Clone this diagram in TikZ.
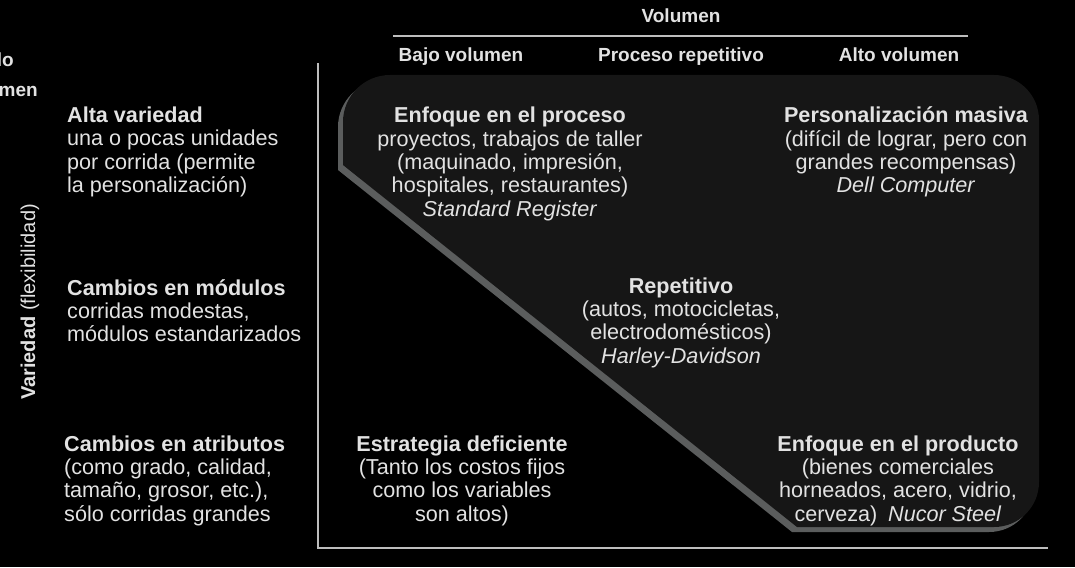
\documentclass[tikz,border=0pt]{standalone}
\usepackage{fontspec}
\setmainfont{Liberation Sans}
\definecolor{txt}{HTML}{E2E2E2}
\definecolor{panel}{HTML}{161616}
\definecolor{shadowgray}{HTML}{5B5D5D}
\definecolor{axis}{HTML}{BDBDBD}
\begin{document}
\begin{tikzpicture}[x=1pt,y=-1pt,
  lbl/.style={text=txt,font=\fontsize{21.6}{23.3}\selectfont,inner sep=0pt},
  cell/.style={lbl,align=center},
  side/.style={lbl,align=left,anchor=west},
  head/.style={lbl,font=\fontsize{19}{22}\selectfont\bfseries,anchor=base},
  axisline/.style={draw=axis,line width=1.5pt}]
\fill[black] (0,0) rectangle (1075,567);
\useasboundingbox (0,0) rectangle (1075,567);
% panel shadow
\begin{scope}[shift={(-5,5)}]
\fill[shadowgray] (343,122) .. controls (343,96.1) and (364.1,75) .. (390,75)
  -- (994,75) .. controls (1018.9,75) and (1039,95.1) .. (1039,120)
  -- (1039,482) .. controls (1039,506.9) and (1018.9,527) .. (994,527)
  -- (797,527) -- (343,165) -- cycle;
\end{scope}
\fill[panel] (343,122) .. controls (343,96.1) and (364.1,75) .. (390,75)
  -- (994,75) .. controls (1018.9,75) and (1039,95.1) .. (1039,120)
  -- (1039,482) .. controls (1039,506.9) and (1018.9,527) .. (994,527)
  -- (797,527) -- (343,165) -- cycle;
% axes
\coordinate (top) at (318,63);
\coordinate (origin) at (318,548);
\coordinate (right) at (1048,548);
\draw[axisline] (top) -- (origin) -- (right);
\coordinate (vl) at (393,36);
\coordinate (vr) at (968,36);
\draw[axisline,line width=1.2pt] (vl) -- (vr);
% headers
\node[head] (vol) at (681,23) {Volumen};
\node[head] (bajo) at (461,62) {Bajo volumen};
\node[head] (proc) at (681,62) {Proceso repetitivo};
\node[head] (alto) at (899,62) {Alto volumen};
\node[head,anchor=base east] (cut1) at (14,67) {lo};
\node[head,anchor=base east] (cut2) at (38,97) {men};
\node[lbl,font=\fontsize{20}{22}\selectfont,rotate=90] (var) at (30,302) {\textbf{Variedad} (flexibilidad)};
% left column
\node[side] (r1) at (67,152) {\textbf{Alta variedad}\\una o pocas unidades\\por corrida (permite\\la personalización)};
\node[side] (r2) at (67,310.5) {\textbf{Cambios en módulos}\\corridas modestas,\\módulos estandarizados};
\node[side] (r3) at (64,480.5) {\textbf{Cambios en atributos}\\(como grado, calidad,\\tamaño, grosor, etc.),\\sólo corridas grandes};
% cells
\node[cell] (c11) at (510,164) {\textbf{Enfoque en el proceso}\\proyectos, trabajos de taller\\(maquinado, impresión,\\hospitales, restaurantes)\\\textit{Standard Register}};
\node[cell] (c13) at (906,152) {\textbf{Personalización masiva}\\(difícil de lograr, pero con\\grandes recompensas)\\\textit{Dell Computer}};
\node[cell] (c22) at (681,322.5) {\textbf{Repetitivo}\\(autos, motocicletas,\\electrodomésticos)\\\textit{Harley-Davidson}};
\node[cell] (c31) at (462,480.5) {\textbf{Estrategia deficiente}\\(Tanto los costos fijos\\como los variables\\son altos)};
\node[cell] (c33) at (898,480.5) {\textbf{Enfoque en el producto}\\(bienes comerciales\\horneados, acero, vidrio,\\cerveza)\enspace\textit{Nucor Steel}};
\end{tikzpicture}
\end{document}
